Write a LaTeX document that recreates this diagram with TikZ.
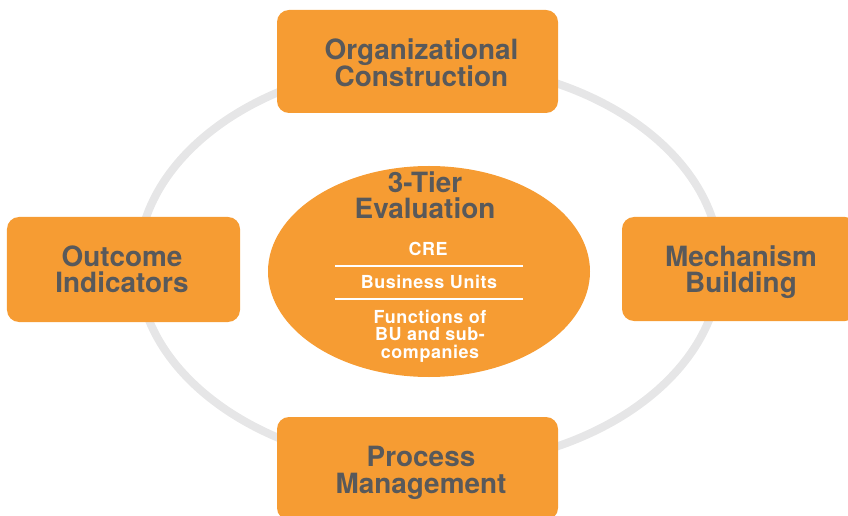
\documentclass[tikz,border=0pt]{standalone}
\usepackage{fontspec}
\setmainfont{TeX Gyre Heros}
\usetikzlibrary{shapes.geometric}
\definecolor{orng}{HTML}{F69C33}
\definecolor{txtgray}{HTML}{58595B}
\definecolor{ringgray}{HTML}{E6E6E7}
\tikzset{
  boxnode/.style={rectangle, rounded corners=12bp, fill=orng, inner sep=0pt},
  boxtext/.style={text=txtgray, align=center, inner sep=0pt, anchor=base,
    font=\fontsize{28}{26.5}\selectfont\bfseries},
  tiertext/.style={text=white, align=center, inner sep=0pt, anchor=base,
    font=\fontsize{18}{17.5}\selectfont\bfseries\addfontfeature{LetterSpace=3}},
  divider/.style={white, line width=1.2bp},
  ring/.style={ringgray, line width=8bp}
}
\begin{document}
\begin{tikzpicture}[x=1bp, y=-1bp]
\useasboundingbox (0,0) rectangle (848,516);
% ring
\draw[ring] (429,265) ellipse [x radius=291, y radius=202];
% boxes
\node[boxnode, minimum width=281bp, minimum height=103bp] (org) at (417.5,61.5) {};
\node[boxtext] (orgt) at (421.5,87) {Organizational\\Construction};
\node[boxnode, minimum width=233bp, minimum height=105bp] (out) at (123.5,269.5) {};
\node[boxtext] (outt) at (122,293) {Outcome\\Indicators};
\node[boxnode, minimum width=235bp, minimum height=104bp] (mech) at (739.5,269) {};
\node[boxtext] (mecht) at (741,293) {Mechanism\\Building};
\node[boxnode, minimum width=281bp, minimum height=103bp] (proc) at (417.5,468.5) {};
\node[boxtext] (proct) at (421,493) {Process\\Management};
% centre ellipse
\node[ellipse, fill=orng, minimum width=322bp, minimum height=211bp, inner sep=0pt] (eval) at (429,271.5) {};
\node[boxtext] (title) at (425,219) {3-Tier\\Evaluation};
\node[tiertext] (cre) at (428,256) {CRE};
\coordinate (d1l) at (335,266);
\coordinate (d1r) at (523,266);
\draw[divider] (d1l) -- (d1r);
\node[tiertext] (bu) at (429,289) {Business Units};
\coordinate (d2l) at (335,299);
\coordinate (d2r) at (523,299);
\draw[divider] (d2l) -- (d2r);
\node[tiertext] (func) at (430,358) {Functions of\\BU and sub-\\companies};
\end{tikzpicture}
\end{document}
